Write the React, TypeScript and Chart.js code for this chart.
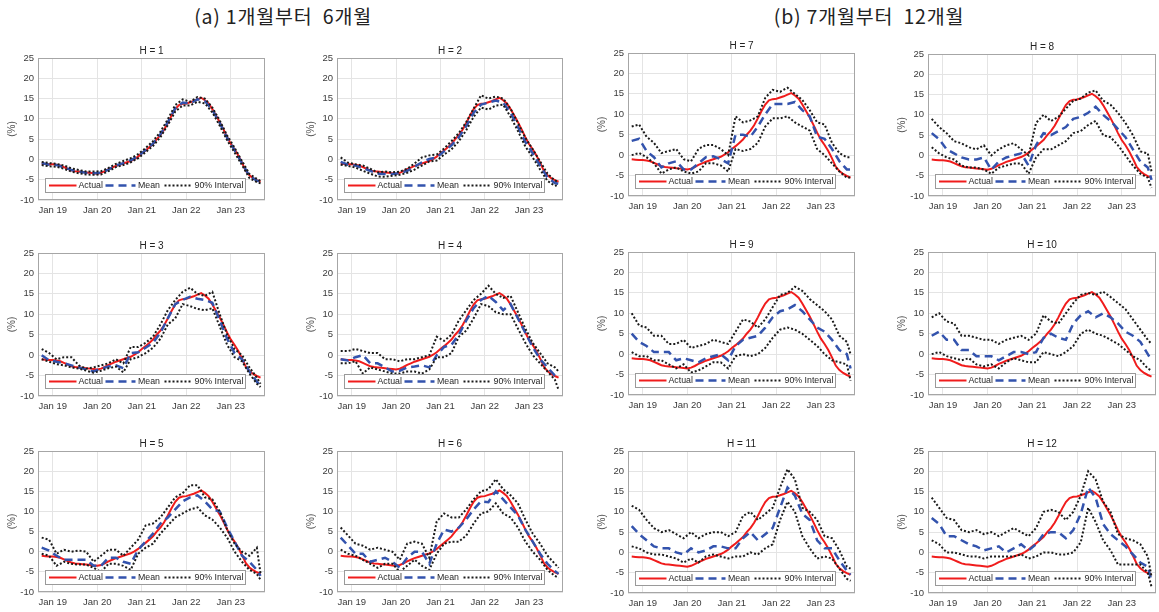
import React, { useEffect, useRef } from "react";
import { Chart, registerables } from "chart.js";
Chart.register(...registerables);

const FONT = "'Liberation Sans', Arial, Helvetica, sans-serif";

// months relative to Jan 2019 (0 = Jan 19)
const ACTUAL_MONTHS = [-3, -2, -1, 0, 1, 2, 3, 4, 5, 6, 7, 8, 9, 10, 11, 12, 13, 14, 15, 16, 17, 18, 19, 20, 21, 22, 23, 24, 25, 26, 27, 28, 29, 30, 31, 32, 33, 34, 35, 36, 37, 38, 39, 40, 41, 42, 43, 44, 45, 46, 47, 48, 49, 50, 51, 52, 53, 54, 55, 56];
const ACTUAL = [-1.0, -1.1, -1.2, -1.2, -1.3, -1.5, -1.9, -2.3, -2.7, -2.9, -3.0, -3.1, -3.2, -3.3, -3.4, -3.5, -3.3, -2.9, -2.4, -2.0, -1.6, -1.3, -1.0, -0.7, -0.4, 0.1, 0.7, 1.5, 2.2, 3.0, 3.8, 5.0, 6.0, 7.3, 9.0, 10.8, 12.4, 13.4, 13.7, 13.8, 14.1, 14.4, 14.8, 15.2, 14.6, 13.8, 12.4, 10.8, 9.2, 7.4, 5.5, 3.8, 2.5, 1.0, -0.8, -2.8, -3.9, -4.6, -5.1, -5.5];

const FC_MONTHS = [-3, -1, 1, 3, 5, 7, 9, 11, 13, 15, 17, 19, 21, 23, 25, 27, 29, 31, 33, 35, 37, 39, 41, 43, 45, 47, 49, 51, 53, 55, 56];

const TICK_MONTHS = [0, 12, 24, 36, 48];
const TICK_LABELS = ["Jan 19", "Jan 20", "Jan 21", "Jan 22", "Jan 23"];
const Y_TICKS = [-10, -5, 0, 5, 10, 15, 20, 25];
const LEGEND_LABELS = ["Actual", "Mean", "90% Interval"];
const HORIZONS = [1, 2, 3, 4, 5, 6, 7, 8, 9, 10, 11, 12];

const H1_MEAN = [-0.9, -1.3, -1.4, -1.9, -2.6, -3.0, -3.3, -3.4, -3.3, -2.5, -1.5, -0.9, -0.2, 0.8, 2.3, 3.9, 6.2, 9.2, 12.6, 14.0, 13.8, 14.8, 14.4, 12.2, 9.0, 5.3, 2.3, -0.9, -4.1, -5.2, -5.6];
const H1_LOWER = [-1.4, -1.7, -1.8, -2.3, -3.0, -3.4, -3.7, -3.8, -3.7, -2.9, -1.9, -1.4, -0.7, 0.3, 1.8, 3.3, 5.5, 8.5, 11.8, 13.3, 13.3, 14.2, 13.8, 11.6, 8.3, 4.7, 1.7, -1.4, -4.6, -5.6, -5.9];
const H1_UPPER = [-0.6, -0.9, -1.1, -1.5, -2.2, -2.6, -3.0, -3.0, -2.9, -2.1, -1.1, -0.4, 0.3, 1.3, 2.8, 4.5, 6.8, 9.9, 13.4, 14.8, 14.2, 15.4, 15.0, 12.8, 9.6, 5.9, 2.9, -0.4, -3.6, -4.8, -5.3];

const H2_MEAN = [-0.6, -1.3, -1.5, -2.1, -2.8, -3.5, -3.6, -3.6, -3.4, -2.8, -1.8, -0.7, 0.1, 0.5, 2.0, 3.5, 5.5, 8.2, 11.5, 13.5, 14.0, 14.5, 14.0, 11.5, 8.0, 4.3, 1.5, -1.5, -4.5, -5.8, -6.0];
const H2_LOWER = [-1.3, -1.6, -2.0, -2.8, -3.5, -4.2, -4.3, -4.0, -3.8, -3.3, -2.5, -1.5, -0.5, -0.3, 1.2, 2.5, 4.5, 7.2, 10.5, 12.8, 12.3, 13.3, 13.5, 10.5, 7.0, 3.2, 0.5, -2.5, -5.3, -6.5, -6.3];
const H2_UPPER = [0.5, -0.8, -1.2, -1.5, -2.3, -3.2, -3.0, -3.2, -3.0, -2.3, -1.0, 0.5, 1.0, 1.2, 2.7, 4.5, 6.5, 9.2, 12.5, 15.8, 15.0, 15.5, 15.0, 12.5, 9.0, 5.3, 2.5, -0.5, -3.5, -5.2, -5.5];

const H3_MEAN = [0.0, -1.3, -1.6, -2.0, -2.5, -3.0, -3.5, -4.0, -3.3, -2.8, -2.5, -3.2, 0.5, 0.7, 1.8, 3.0, 5.5, 9.0, 12.5, 13.5, 14.3, 13.8, 13.5, 12.8, 8.5, 4.0, 0.5, -1.0, -4.0, -6.5, -7.5];
const H3_LOWER = [-1.0, -1.6, -2.2, -2.5, -3.0, -3.3, -3.8, -4.3, -3.8, -3.2, -2.8, -4.2, -1.0, -0.5, 0.5, 1.8, 4.0, 7.5, 9.0, 12.5, 12.0, 11.3, 11.0, 11.5, 7.0, 2.5, -0.5, -1.5, -4.5, -7.0, -7.8];
const H3_UPPER = [1.5, 0.5, -1.0, -0.5, -0.5, -2.5, -3.3, -3.0, -2.5, -2.0, -1.0, -2.0, 2.0, 2.0, 3.0, 4.5, 7.5, 11.0, 13.5, 15.5, 16.5, 15.0, 14.5, 15.5, 10.0, 5.0, 1.5, 0.0, -3.0, -5.5, -7.0];

const H4_MEAN = [-1.0, -1.3, -0.5, 0.0, -2.0, -2.0, -3.0, -4.0, -3.8, -3.0, -2.8, -2.5, -3.0, 0.0, 2.0, 2.5, 5.0, 8.5, 11.5, 13.5, 14.5, 13.0, 11.0, 12.5, 9.0, 5.5, 2.0, -1.0, -3.0, -5.0, -5.5];
const H4_LOWER = [-2.0, -2.0, -1.5, -4.5, -3.0, -3.5, -4.0, -4.5, -4.5, -4.0, -4.0, -4.5, -3.5, -0.5, -0.5, 0.5, 4.5, 6.0, 9.0, 12.5, 12.0, 10.5, 10.0, 10.0, 6.5, 3.0, 0.0, -2.0, -4.0, -6.0, -8.5];
const H4_UPPER = [1.0, 1.0, 1.5, 1.0, 0.5, 0.5, -1.0, -1.0, -1.5, -1.0, -1.0, -0.5, 0.0, 4.5, 3.5, 5.0, 8.5, 11.0, 13.5, 15.0, 17.0, 15.0, 14.0, 14.5, 10.5, 6.5, 3.0, 0.5, -2.0, -3.0, -4.0];

const H5_MEAN = [1.0, 0.3, -1.0, -2.0, -2.0, -2.0, -2.0, -3.5, -3.5, -1.5, -1.5, -2.5, -3.0, 0.5, 2.5, 4.5, 7.0, 8.5, 10.5, 12.5, 13.5, 14.0, 12.5, 10.5, 10.0, 6.0, 2.5, -1.0, -2.5, -4.5, -6.0];
const H5_LOWER = [-0.5, -1.0, -3.5, -2.5, -3.0, -3.2, -3.2, -4.0, -5.0, -3.0, -3.0, -3.5, -4.5, -0.5, 1.0, 2.0, 4.5, 6.5, 8.5, 9.5, 10.5, 11.0, 9.0, 8.0, 6.0, 3.5, 0.0, -2.5, -4.5, -5.5, -7.0];
const H5_UPPER = [3.5, 3.0, -0.5, 0.5, 0.0, 0.3, 0.0, -2.5, -1.0, 0.5, 0.5, -1.0, 1.0, 3.0, 6.5, 7.0, 8.5, 11.0, 13.5, 14.5, 16.5, 16.5, 13.5, 13.0, 10.0, 5.5, 2.0, 0.0, -1.0, 1.0, -5.5];

const H6_MEAN = [3.5, 1.5, -0.5, -0.5, -2.5, -2.0, -1.5, -2.5, -4.0, -1.5, 0.0, 0.0, -3.0, 2.0, 5.5, 5.0, 6.0, 8.0, 10.5, 12.5, 12.3, 15.0, 13.0, 11.0, 9.0, 5.5, 2.5, -0.5, -3.0, -4.8, -5.5];
const H6_LOWER = [0.5, -0.5, -1.0, -2.0, -3.0, -4.0, -3.0, -3.0, -5.0, -3.5, -2.0, -3.5, -4.5, -0.5, 2.0, 2.5, 2.5, 4.0, 7.0, 9.5, 10.0, 12.0, 9.5, 8.5, 6.0, 2.5, 0.0, -2.0, -4.5, -6.0, -6.5];
const H6_UPPER = [6.0, 4.0, 2.0, 1.5, 0.5, 1.0, 0.5, 0.0, -2.0, 2.0, 2.5, 2.0, -1.5, 7.5, 9.5, 8.5, 8.5, 10.5, 13.0, 15.0, 15.5, 18.0, 15.5, 14.0, 12.0, 8.0, 4.5, 2.0, -1.0, -3.0, -4.0];

const H7_MEAN = [3.5, 4.0, 1.0, -0.5, -3.0, -2.0, -1.5, -3.5, -3.5, -2.0, -0.5, -0.3, -1.0, -2.0, 5.0, 5.0, 4.5, 7.0, 10.0, 12.5, 12.5, 12.5, 13.0, 11.0, 9.5, 4.5, 4.0, 1.5, -1.5, -3.5, -3.5];
const H7_LOWER = [0.0, 0.5, -0.5, -2.0, -4.5, -3.5, -3.0, -4.0, -4.5, -4.0, -2.0, -2.0, -2.5, -4.0, 1.5, 1.0, 1.5, 3.0, 7.0, 9.0, 9.0, 9.5, 8.0, 7.0, 6.0, 1.5, 0.0, -2.0, -4.0, -5.5, -5.5];
const H7_UPPER = [7.0, 7.5, 4.5, 3.0, 0.5, 1.0, 1.5, -1.0, -1.5, 1.5, 2.5, 2.5, 1.5, 0.0, 9.5, 8.0, 8.5, 9.5, 14.0, 16.0, 15.5, 16.5, 15.0, 13.5, 11.0, 8.0, 7.5, 3.0, 0.5, -0.5, -0.5];

const H8_MEAN = [5.5, 4.0, 1.5, 0.5, -0.5, -1.0, -1.0, -0.5, -3.5, -1.5, -0.5, 0.0, 0.5, -2.5, 2.5, 5.5, 5.0, 6.0, 7.0, 9.0, 9.5, 10.5, 12.0, 10.0, 8.5, 6.5, 4.5, 1.5, -1.5, -3.0, -6.0];
const H8_LOWER = [2.0, 0.5, -0.5, -1.0, -2.5, -3.0, -3.0, -3.5, -4.5, -3.0, -2.5, -2.0, -2.0, -4.5, -0.5, 1.5, 1.5, 2.5, 3.5, 5.5, 6.0, 7.5, 8.5, 5.0, 4.5, 2.5, 0.0, -2.5, -4.5, -5.5, -8.0];
const H8_UPPER = [9.0, 7.0, 5.5, 3.5, 3.0, 2.0, 1.5, 2.5, 0.0, 1.5, 2.5, 3.0, 1.5, 0.0, 8.0, 10.0, 8.5, 9.5, 11.5, 13.5, 14.0, 15.5, 16.0, 13.5, 12.5, 10.5, 8.0, 5.0, 1.0, 0.5, -4.0];

const H9_MEAN = [5.0, 3.0, 2.0, 0.5, 0.5, 0.5, -1.5, -1.0, -1.5, -2.0, -1.0, -0.5, 0.0, -1.5, 2.0, 3.5, 4.0, 4.5, 6.5, 9.0, 10.5, 11.0, 12.0, 10.5, 8.5, 6.5, 5.5, 3.5, 1.0, 0.0, -3.5];
const H9_LOWER = [0.5, -0.5, -0.5, -1.5, -1.5, -2.5, -3.5, -2.5, -4.5, -4.0, -3.0, -2.0, -2.0, -3.5, -0.5, 0.0, -0.5, 0.0, 1.5, 4.0, 6.0, 6.5, 6.0, 5.0, 3.5, 2.0, 0.0, -1.5, -2.0, -2.5, -6.5];
const H9_UPPER = [10.0, 7.0, 6.5, 4.5, 4.5, 2.5, 2.5, 3.5, 1.5, 2.0, 2.5, 3.5, 3.0, 2.5, 5.5, 8.5, 8.0, 6.5, 8.5, 11.5, 14.5, 15.0, 16.5, 15.5, 13.5, 12.0, 10.5, 8.5, 4.5, 3.0, 0.0];

const H10_MEAN = [4.5, 5.5, 3.5, 3.5, 1.0, 1.0, -0.5, -0.5, -0.5, -1.5, -0.5, 0.5, 0.5, 0.0, 0.5, 4.0, 5.0, 4.0, 3.5, 7.5, 9.5, 10.5, 9.0, 10.0, 9.0, 7.5, 5.5, 4.5, 3.0, 0.0, -1.5];
const H10_LOWER = [0.0, 0.5, -0.5, -1.0, -1.5, -1.0, -2.5, -3.0, -2.5, -3.5, -2.0, -1.0, -1.5, -2.0, -2.0, 0.5, 0.0, -0.5, 0.5, 2.0, 5.0, 6.0, 5.0, 4.5, 3.5, 2.5, 1.0, -0.5, -1.5, -3.5, -4.0];
const H10_UPPER = [9.0, 10.0, 8.0, 7.5, 4.5, 4.5, 4.0, 3.5, 3.5, 2.5, 3.5, 4.0, 4.5, 3.5, 5.0, 9.5, 8.0, 7.5, 10.0, 12.5, 14.5, 15.0, 14.5, 15.3, 14.0, 12.5, 11.0, 8.5, 6.0, 3.5, 2.5];

const H11_MEAN = [6.5, 4.5, 3.0, 1.5, 1.0, 1.0, 0.0, -0.5, 1.0, 0.0, 0.5, 1.5, 1.5, 1.0, 1.0, 3.5, 5.0, 3.0, 4.5, 6.0, 11.0, 16.0, 14.0, 9.5, 8.0, 3.0, 1.0, 1.0, -2.0, -4.5, -5.5];
const H11_LOWER = [1.5, 1.0, 0.0, -0.5, -0.5, -1.0, -1.5, -2.5, -1.5, -2.5, -1.0, -0.5, -1.0, -1.5, -1.0, -1.0, 0.0, -0.5, 1.0, 2.0, 8.0, 12.5, 10.0, 4.0, 1.0, -1.5, -1.0, -1.5, -4.0, -6.5, -7.0];
const H11_UPPER = [11.5, 10.5, 8.0, 6.0, 5.0, 5.5, 4.5, 3.5, 5.0, 3.5, 4.5, 5.0, 5.0, 4.0, 5.0, 9.0, 10.0, 8.0, 9.5, 11.0, 16.0, 20.5, 18.0, 11.0, 10.0, 8.0, 4.0, 3.5, 0.5, -3.5, -4.0];

const H12_MEAN = [8.5, 7.0, 4.0, 4.0, 3.0, 2.0, 1.5, 0.5, 1.0, 1.5, 0.0, 1.0, 2.0, 0.5, 2.0, 4.5, 5.0, 5.0, 3.5, 5.5, 9.5, 16.0, 13.5, 7.0, 4.5, 3.0, 1.5, -0.5, -2.5, -3.5, -7.0];
const H12_LOWER = [3.0, 2.0, 0.0, 0.0, -0.5, -1.0, -1.0, -1.5, -1.0, -1.0, -1.0, -1.0, -0.5, -1.5, -1.0, 0.0, 0.0, -0.5, -0.5, 0.0, 2.5, 11.0, 7.5, 3.0, 0.5, -3.0, -3.0, -3.0, -3.0, -5.0, -8.5];
const H12_UPPER = [13.5, 11.0, 8.5, 8.0, 5.5, 5.0, 5.5, 4.5, 5.0, 4.0, 5.0, 6.0, 5.0, 4.0, 6.0, 10.0, 10.5, 10.0, 8.0, 10.0, 14.0, 20.0, 18.0, 12.5, 10.0, 4.5, 3.5, 3.0, 2.0, -1.0, -6.0];

const MEANS = [H1_MEAN, H2_MEAN, H3_MEAN, H4_MEAN, H5_MEAN, H6_MEAN, H7_MEAN, H8_MEAN, H9_MEAN, H10_MEAN, H11_MEAN, H12_MEAN];
const LOWERS = [H1_LOWER, H2_LOWER, H3_LOWER, H4_LOWER, H5_LOWER, H6_LOWER, H7_LOWER, H8_LOWER, H9_LOWER, H10_LOWER, H11_LOWER, H12_LOWER];
const UPPERS = [H1_UPPER, H2_UPPER, H3_UPPER, H4_UPPER, H5_UPPER, H6_UPPER, H7_UPPER, H8_UPPER, H9_UPPER, H10_UPPER, H11_UPPER, H12_UPPER];

// plot-area placement (left, top, width, height) for each horizon panel
const LAYOUT: [number, number, number, number][] = [
  [38, 58, 227, 142], [337, 58, 226, 142],
  [38, 253, 227, 143], [337, 253, 226, 143],
  [38, 451, 227, 141], [337, 451, 226, 141],
  [628, 53, 227, 143], [928, 54, 228, 142],
  [628, 252, 227, 143], [928, 252, 228, 143],
  [628, 451, 227, 142], [928, 451, 228, 142],
];

const ML = 38, MT = 22, MR = 4, MB = 20;
const RED = "#f01c1c";
const BLUE = "#3353ad";
const DOT = "#1a1a1a";

function pts(xs: number[], ys: number[]) {
  return xs.map((x, i) => ({ x, y: ys[i] }));
}

function Panel({ idx }: { idx: number }) {
  const ref = useRef<HTMLCanvasElement>(null);
  const [pl, pt, pw, ph] = LAYOUT[idx];
  const h = HORIZONS[idx];
  useEffect(() => {
    const decor = {
      id: "decor" + h,
      afterDraw(chart: any) {
        const { ctx, chartArea: a } = chart;
        ctx.save();
        ctx.strokeStyle = "#a6a6a6";
        ctx.lineWidth = 1;
        ctx.setLineDash([]);
        ctx.strokeRect(a.left + 0.5, a.top + 0.5, a.right - a.left - 1, a.bottom - a.top - 1);
        ctx.fillStyle = "#222";
        ctx.font = `10px ${FONT}`;
        ctx.textAlign = "center";
        ctx.textBaseline = "alphabetic";
        ctx.fillText(`H = ${h}`, (a.left + a.right) / 2, a.top - 4);
        // legend
        const bx = Math.round(a.left + 7) + 0.5;
        const by = Math.round(a.bottom - 22) + 0.5;
        const bw = 200, bh = 14;
        ctx.fillStyle = "#fff";
        ctx.fillRect(bx, by, bw, bh);
        ctx.strokeStyle = "#9a9a9a";
        ctx.strokeRect(bx, by, bw, bh);
        const cy = by + bh / 2;
        ctx.lineCap = "butt";
        ctx.strokeStyle = RED; ctx.lineWidth = 2; ctx.setLineDash([]);
        ctx.beginPath(); ctx.moveTo(bx + 3.5, cy); ctx.lineTo(bx + 31, cy); ctx.stroke();
        ctx.strokeStyle = BLUE; ctx.lineWidth = 2.5; ctx.setLineDash([8, 5]);
        ctx.beginPath(); ctx.moveTo(bx + 60, cy); ctx.lineTo(bx + 90, cy); ctx.stroke();
        ctx.strokeStyle = DOT; ctx.lineWidth = 2; ctx.setLineDash([2, 2]);
        ctx.beginPath(); ctx.moveTo(bx + 119, cy); ctx.lineTo(bx + 147, cy); ctx.stroke();
        ctx.setLineDash([]);
        ctx.fillStyle = "#262626";
        ctx.font = `8.8px ${FONT}`;
        ctx.textAlign = "left";
        ctx.textBaseline = "middle";
        ctx.fillText(LEGEND_LABELS[0], bx + 33, cy + 0.5);
        ctx.fillText(LEGEND_LABELS[1], bx + 92.5, cy + 0.5);
        ctx.fillText(LEGEND_LABELS[2], bx + 149, cy + 0.5);
        ctx.restore();
      },
    };
    const line = { pointRadius: 0, tension: 0, fill: false };
    const chart = new Chart(ref.current as HTMLCanvasElement, {
      type: "line",
      data: {
        datasets: [
          { ...line, label: "90% Interval", data: pts(FC_MONTHS, UPPERS[idx]), borderColor: DOT, borderWidth: 2, borderDash: [2, 2], order: 0 },
          { ...line, label: "90% Interval (lower)", data: pts(FC_MONTHS, LOWERS[idx]), borderColor: DOT, borderWidth: 2, borderDash: [2, 2], order: 0 },
          { ...line, label: "Mean", data: pts(FC_MONTHS, MEANS[idx]), borderColor: BLUE, borderWidth: 2.5, borderDash: [8, 5], order: 1 },
          { ...line, label: "Actual", data: pts(ACTUAL_MONTHS, ACTUAL), borderColor: RED, borderWidth: 2, order: 2 },
        ] as any,
      },
      options: {
        responsive: false,
        animation: false,
        layout: { padding: { top: MT, right: MR, left: 0, bottom: 0 } },
        plugins: { legend: { display: false }, tooltip: { enabled: false }, title: { display: false } },
        scales: {
          x: {
            type: "linear",
            min: -4,
            max: 57.2,
            afterBuildTicks: (s: any) => { s.ticks = TICK_MONTHS.map((v) => ({ value: v })); },
            afterFit: (s: any) => { s.height = MB; },
            ticks: {
              callback: (v: any) => { const i = TICK_MONTHS.indexOf(Number(v)); return i >= 0 ? TICK_LABELS[i] : ""; },
              font: { size: 9.5, family: FONT },
              color: "#3a3a3a",
              padding: 5,
              maxRotation: 0,
              autoSkip: false,
            },
            grid: { color: "#e4e4e4", drawTicks: false },
            border: { display: false },
          },
          y: {
            min: -10,
            max: 25,
            afterBuildTicks: (s: any) => { s.ticks = Y_TICKS.map((v) => ({ value: v })); },
            afterFit: (s: any) => { s.width = ML; },
            ticks: { font: { size: 9.5, family: FONT }, color: "#3a3a3a", padding: 4 },
            grid: { color: "#e4e4e4", drawTicks: false },
            border: { display: false },
            title: { display: true, text: "(%)", color: "#555", font: { size: 10, family: FONT }, padding: { top: 6, bottom: 0 } },
          },
        },
      } as any,
      plugins: [decor],
    });
    return () => chart.destroy();
  }, []);
  return (
    <canvas
      ref={ref}
      width={ML + pw + MR}
      height={MT + ph + MB}
      style={{ position: "absolute", left: pl - ML, top: pt - MT, width: ML + pw + MR, height: MT + ph + MB }}
    />
  );
}

const HEADINGS = ["(a) 1개월부터  6개월", "(b) 7개월부터  12개월"];
const headingStyle = {
  position: "absolute" as const,
  top: 3,
  textAlign: "center" as const,
  fontFamily: "'Noto Sans CJK KR', 'Noto Sans', sans-serif",
  fontSize: 19.5,
  letterSpacing: 0.8,
  lineHeight: "26px",
  color: "#222",
  whiteSpace: "pre" as const,
};

export default function App() {
  return (
    <div style={{ position: "fixed", left: 0, top: 0, width: 1159, height: 612, background: "#fff", overflow: "hidden" }}>
      <div style={{ ...headingStyle, left: 0, width: 566 }}>{HEADINGS[0]}</div>
      <div style={{ ...headingStyle, left: 579, width: 580 }}>{HEADINGS[1]}</div>
      {HORIZONS.map((h, i) => (
        <Panel key={h} idx={i} />
      ))}
    </div>
  );
}
